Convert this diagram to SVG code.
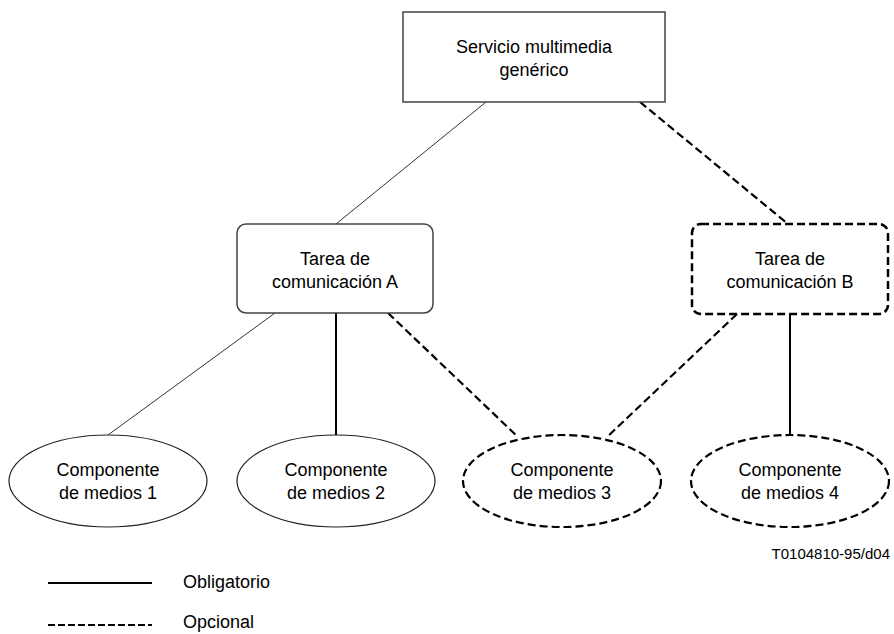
<svg xmlns="http://www.w3.org/2000/svg" width="894" height="634" viewBox="0 0 894 634">
<style>
text{font-family:"Liberation Sans",Arial,sans-serif;font-size:18px;fill:#000;text-anchor:middle}
.thin{stroke:#333;stroke-width:1;fill:none}
.solid{stroke:#000;stroke-width:2;fill:none}
.dash{stroke:#000;stroke-width:2.2;fill:none;stroke-dasharray:8 4}
.box{stroke:#444;stroke-width:1.5;fill:#fff}
.dbox{stroke:#000;stroke-width:2.5;fill:#fff;stroke-dasharray:8 4}
.ell{stroke:#222;stroke-width:1.2;fill:#fff}
.dell{stroke:#000;stroke-width:2.2;fill:#fff;stroke-dasharray:8 4}
</style>
<g id="connectors">
<line class="thin" x1="486" y1="102" x2="336" y2="224"/>
<line class="dash" x1="640" y1="102" x2="788" y2="224"/>
<line class="thin" x1="275" y1="313" x2="108" y2="435"/>
<line class="solid" x1="336" y1="313" x2="336" y2="435"/>
<line class="dash" x1="388" y1="313" x2="518" y2="437"/>
<line class="dash" x1="737" y1="314" x2="607" y2="437"/>
<line class="solid" x1="790" y1="314" x2="790" y2="435"/>
</g>
<g id="servicio">
<rect class="box" x="403" y="12" width="262" height="90"/>
<text x="534" y="53">Servicio multimedia</text>
<text x="534" y="76">genérico</text>
</g>
<g id="tareaA">
<rect class="box" x="237" y="224" width="196" height="89" rx="9"/>
<text x="335" y="265">Tarea de</text>
<text x="335" y="288">comunicación A</text>
</g>
<g id="tareaB">
<rect class="dbox" x="692" y="224" width="196" height="90" rx="9"/>
<text x="790" y="265">Tarea de</text>
<text x="790" y="288">comunicación B</text>
</g>
<g id="comp1">
<ellipse class="ell" cx="108" cy="481" rx="99" ry="46"/>
<text x="108" y="476">Componente</text>
<text x="108" y="499">de medios 1</text>
</g>
<g id="comp2">
<ellipse class="ell" cx="336" cy="481" rx="99" ry="46"/>
<text x="336" y="476">Componente</text>
<text x="336" y="499">de medios 2</text>
</g>
<g id="comp3">
<ellipse class="dell" cx="562" cy="481" rx="99" ry="46"/>
<text x="562" y="476">Componente</text>
<text x="562" y="499">de medios 3</text>
</g>
<g id="comp4">
<ellipse class="dell" cx="790" cy="481" rx="99" ry="46"/>
<text x="790" y="476">Componente</text>
<text x="790" y="499">de medios 4</text>
</g>
<g id="ref">
<text x="890" y="559" style="font-size:15px;text-anchor:end">T0104810-95/d04</text>
</g>
<g id="legend">
<line class="solid" x1="48" y1="583" x2="152" y2="583"/>
<text x="183" y="588" style="text-anchor:start">Obligatorio</text>
<line class="dash" x1="48" y1="625" x2="152" y2="625" style="stroke-dasharray:7 3"/>
<text x="183" y="628" style="text-anchor:start">Opcional</text>
</g>
</svg>
